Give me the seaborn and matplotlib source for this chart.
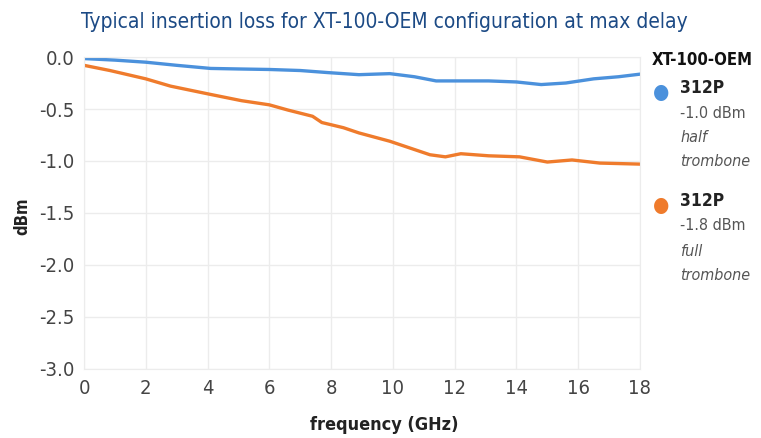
import pandas as pd
import seaborn as sns
import matplotlib.pyplot as plt
from matplotlib import font_manager

# values
freq_half = [0.0, 1.0, 2.0, 3.0, 4.1, 5.0, 6.0, 7.0, 7.9, 8.9, 9.9, 10.7, 11.4,
             12.3, 13.1, 14.0, 14.8, 15.6, 16.5, 17.3, 18.0]
loss_half = [-0.015, -0.03, -0.05, -0.08, -0.11, -0.115, -0.12, -0.13, -0.15, -0.17,
             -0.16, -0.19, -0.23, -0.23, -0.23, -0.24, -0.265, -0.25, -0.21, -0.19, -0.165]

freq_full = [0.0, 0.84, 2.0, 2.8, 4.1, 5.1, 6.0, 6.6, 7.4, 7.7, 8.4, 8.9, 9.9,
             10.6, 11.2, 11.7, 12.2, 13.1, 14.1, 15.0, 15.8, 16.7, 18.0]
loss_full = [-0.08, -0.13, -0.21, -0.28, -0.36, -0.42, -0.46, -0.51, -0.57, -0.63,
             -0.68, -0.73, -0.81, -0.88, -0.94, -0.96, -0.93, -0.95, -0.96, -1.01,
             -0.99, -1.02, -1.03]

series = ["312P half", "312P full"]
colors = ["#4b91dc", "#ef7b2c"]
x_ticks = list(range(0, 19, 2))
y_ticks = [0.0, -0.5, -1.0, -1.5, -2.0, -2.5, -3.0]
legend_title = "XT-100-OEM"
legend_entries = [("312P", "-1.0 dBm", "half", "trombone"),
                  ("312P", "-1.8 dBm", "full", "trombone")]
title = "Typical insertion loss for XT-100-OEM configuration at max delay"

df = pd.concat([
    pd.DataFrame({"freq": freq_half, "loss": loss_half, "series": series[0]}),
    pd.DataFrame({"freq": freq_full, "loss": loss_full, "series": series[1]}),
])

sns.set_style("whitegrid")
plt.rcParams["font.family"] = ["DejaVu Sans"]

# use the condensed cut of DejaVu Sans when it is there
has_cond = any(f.name == "DejaVu Sans" and "ondensed" in f.fname
               for f in font_manager.fontManager.ttflist)
stretch = "condensed" if has_cond else "normal"
k = 1.0 if has_cond else 0.82
plt.rcParams["font.stretch"] = stretch

fig = plt.figure(figsize=(7.61, 4.38), dpi=100)
ax = fig.add_axes([84 / 761, 1 - 369 / 438, (640 - 84) / 761, (369 - 57) / 438])

sns.lineplot(data=df, x="freq", y="loss", hue="series", palette=colors,
             linewidth=2.4, legend=False, ax=ax, estimator=None, sort=False)

ax.set_xlim(0, 18)
ax.set_ylim(-3.0, 0.0)
ax.set_xticks(x_ticks)
ax.set_yticks(y_ticks)
ax.set_xticklabels([str(t) for t in x_ticks], fontsize=14.5 * k, color="#444444",
                   fontstretch=stretch)
ax.set_yticklabels([f"{t:.1f}" for t in y_ticks], fontsize=14.5 * k, color="#444444",
                   fontstretch=stretch)
ax.tick_params(axis="both", length=0, pad=7)
ax.grid(True, color="#ececec", linewidth=1)
for s in ax.spines.values():
    s.set_color("#ececec")

ax.set_xlabel("frequency (GHz)", fontsize=13 * k, fontweight="bold", color="#222222",
              fontstretch=stretch)
ax.xaxis.set_label_coords((384 - 84) / (640 - 84), -0.15)
ax.set_ylabel("dBm", fontsize=12, fontweight="bold", color="#222222")
ax.yaxis.set_label_coords((31 - 84) / (640 - 84), 0.49)

fig.text(384 / 761, 1 - 22 / 438, title, ha="center", va="center",
         fontsize=15 * k, color="#1c4a85", fontstretch=stretch)

# custom legend on the right
fig.text(652 / 761, 1 - 60 / 438, legend_title, ha="left", va="center",
         fontsize=12 * k, fontweight="bold", color="#111111", fontstretch=stretch)
starts = [88, 201]
for (name, val, l1, l2), c, y0 in zip(legend_entries, colors, starts):
    fig.text(661 / 761, 1 - (y0 + 4) / 438, "\u25CF", ha="center", va="center",
             fontsize=15, color=c)
    fig.text(680 / 761, 1 - y0 / 438, name, ha="left", va="center",
             fontsize=12.5 * k, fontweight="bold", color="#222222", fontstretch=stretch)
    fig.text(680 / 761, 1 - (y0 + 25) / 438, val, ha="left", va="center",
             fontsize=11.5 * k, color="#555555", fontstretch=stretch)
    fig.text(680 / 761, 1 - (y0 + 50) / 438, l1, ha="left", va="center",
             fontsize=11.5 * k, style="italic", color="#555555", fontstretch=stretch)
    fig.text(680 / 761, 1 - (y0 + 74) / 438, l2, ha="left", va="center",
             fontsize=11.5 * k, style="italic", color="#555555", fontstretch=stretch)

fig.savefig("out.png", dpi=100)
